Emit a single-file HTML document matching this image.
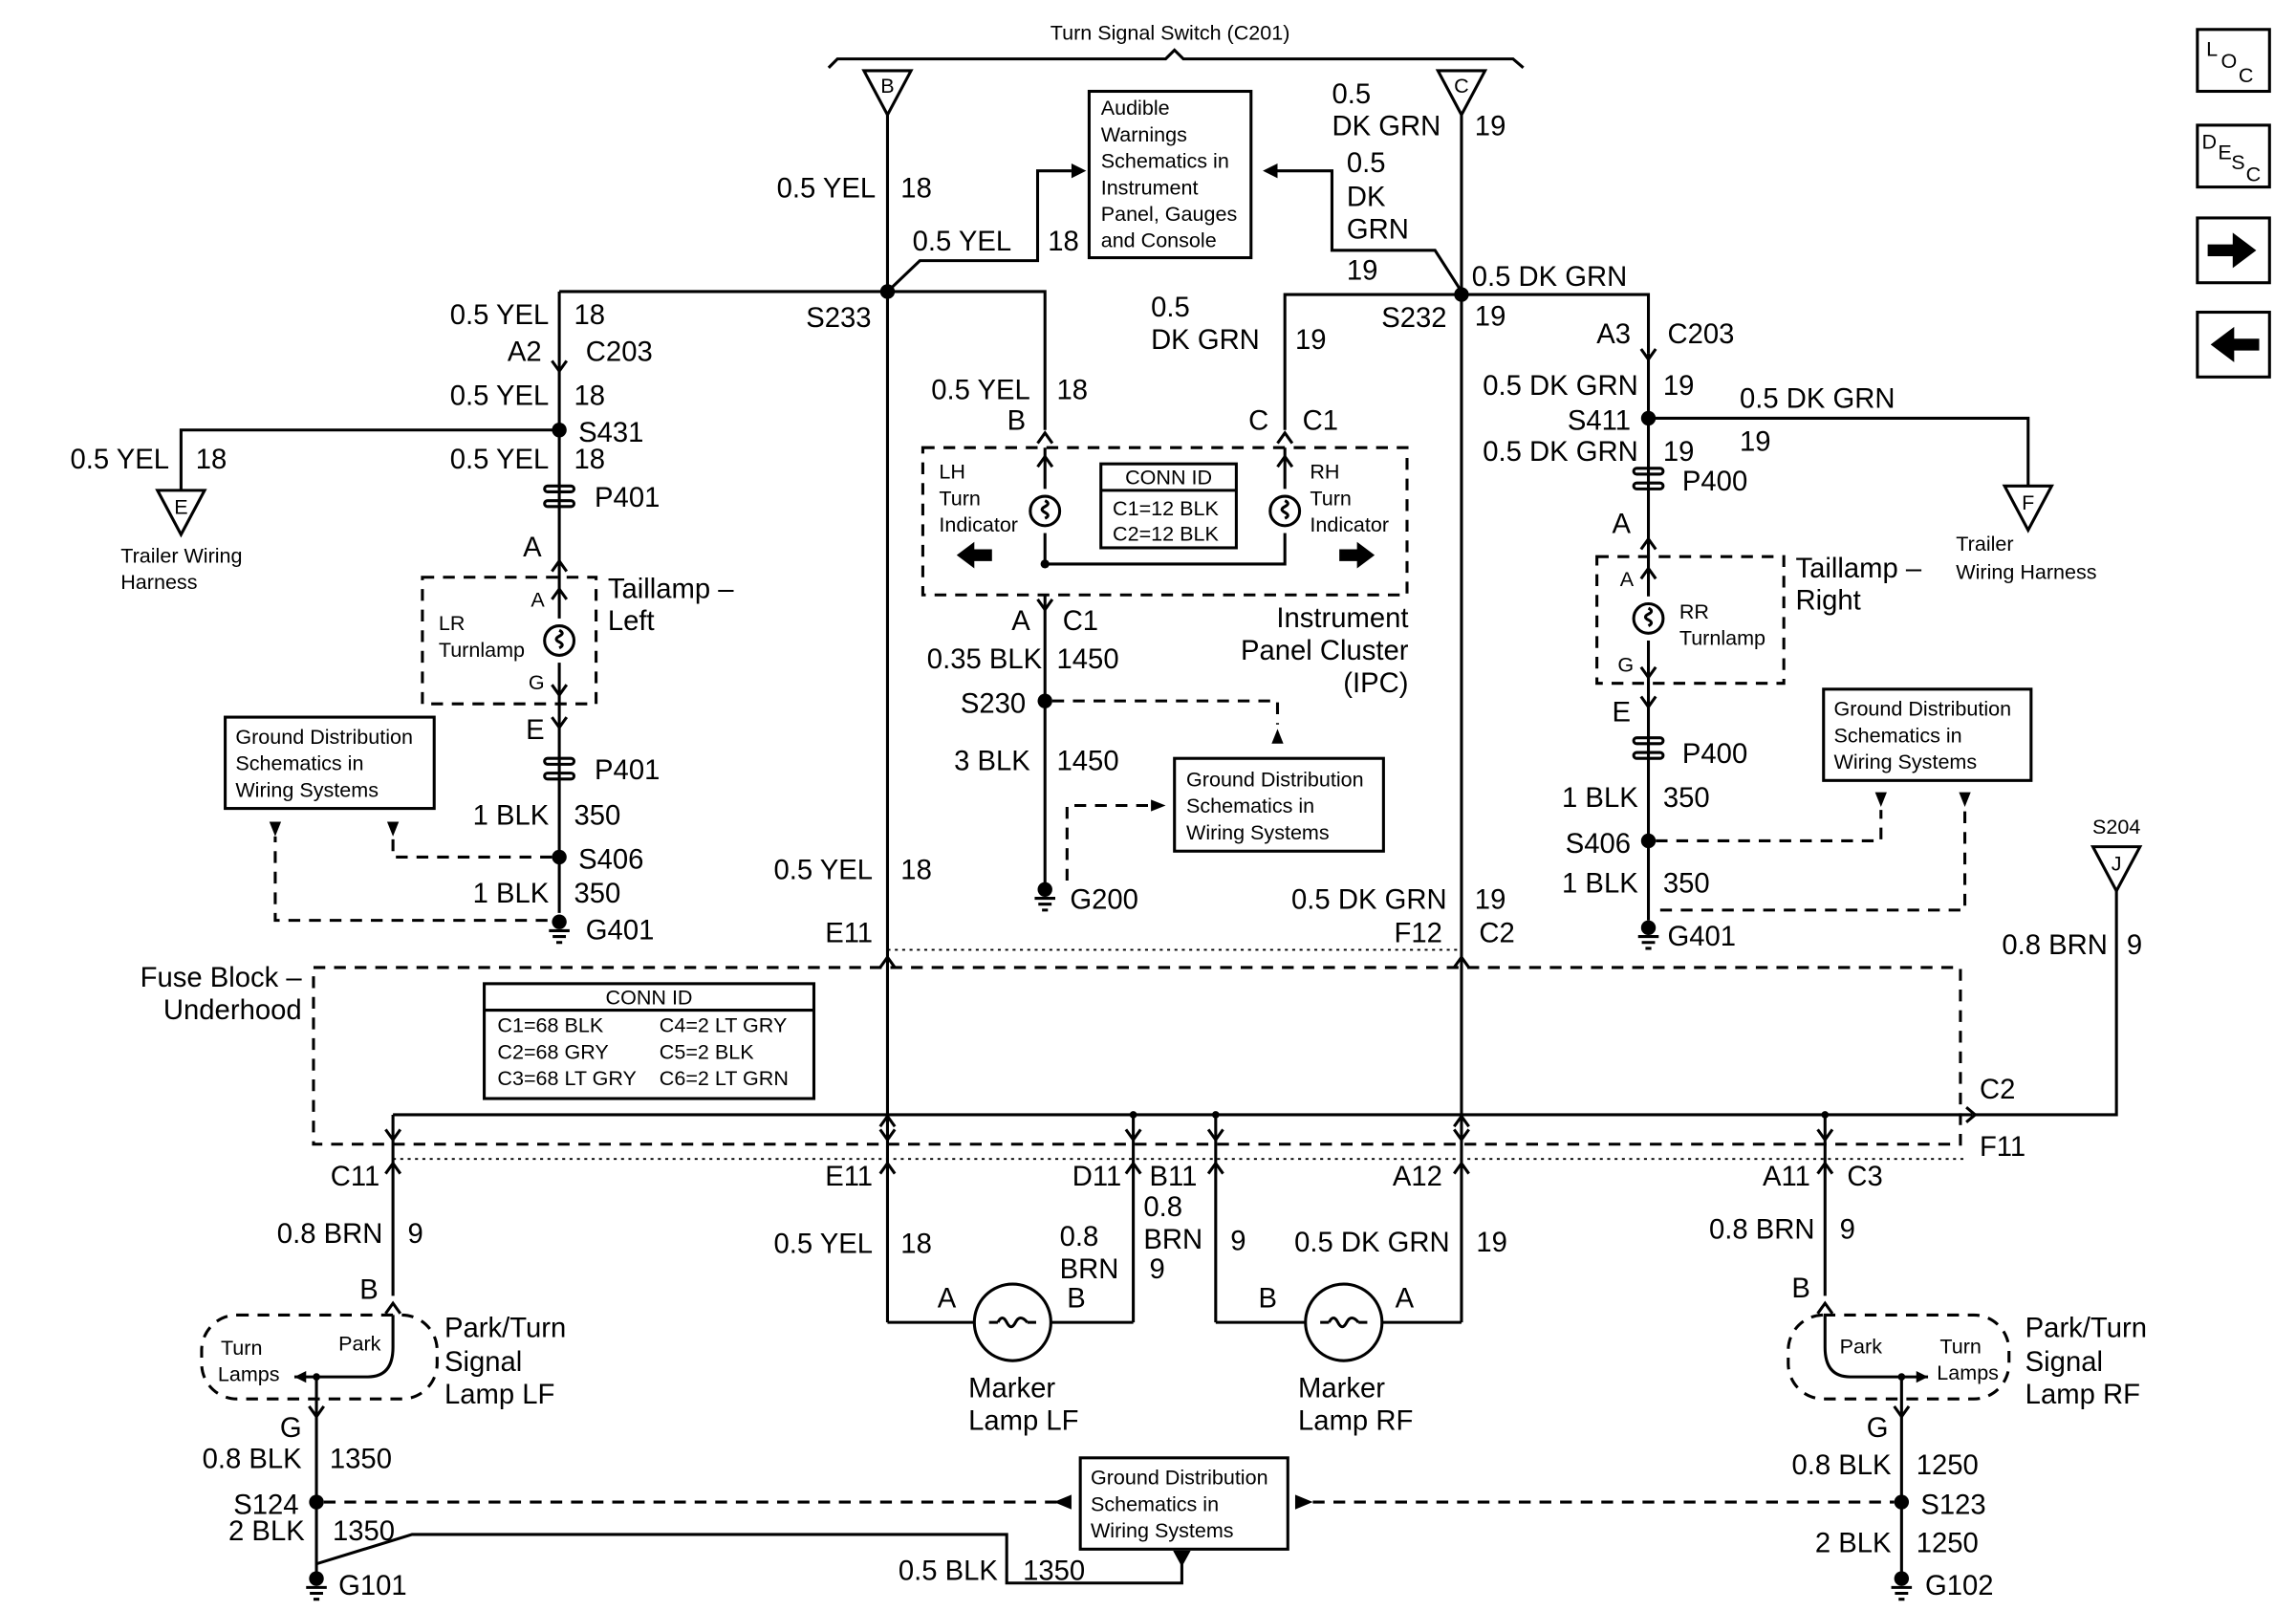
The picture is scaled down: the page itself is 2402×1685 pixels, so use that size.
<!DOCTYPE html>
<html><head><meta charset="utf-8"><style>
html,body{margin:0;padding:0;background:#fff}
svg{display:block}
text{font-family:"Liberation Sans",Arial,sans-serif;fill:#000}
.t{font-size:19px}
.s{font-size:14px}
.r{text-anchor:end}
.m{text-anchor:middle}
.w{stroke:#000;stroke-width:2;fill:none}
.d{stroke:#000;stroke-width:2;fill:none;stroke-dasharray:8,6}
.dd{stroke:#000;stroke-width:1.2;fill:none;stroke-dasharray:2,3}
.b{stroke:#000;stroke-width:2;fill:#fff}
</style></head><body>
<svg width="2402" height="1685" viewBox="0 0 1560 1094" preserveAspectRatio="none" xmlns="http://www.w3.org/2000/svg">
<defs>
<g id="dn"><path d="M-5,-5 L0,2 L5,-5" class="w"/></g>
<g id="up"><path d="M-5,5 L0,-2 L5,5" class="w"/></g>
<g id="gnd"><circle cx="0" cy="-2" r="5" fill="#000"/><path d="M-7,4 H7 M-4.5,8 H4.5 M-2,12 H2" stroke="#000" stroke-width="2"/></g>
<g id="pc"><rect x="-10" y="-7" width="20" height="4" rx="2" class="w"/><rect x="-10" y="3" width="20" height="4" rx="2" class="w"/></g>
<g id="bulb"><circle r="10" class="w"/><path d="M0,-7 q4,2 0,4 q-4,2 0,4 q4,2 0,4" class="w" stroke-width="1.5"/></g>
<g id="arD"><path d="M-4,-8 H4 L0,2 Z" fill="#000"/></g>
</defs>

<text x="795" y="27" class="s m">Turn Signal Switch (C201)</text>
<path d="M563,46 L569,40 L792,40 L798,34 L804,40 L1028,40 L1035,46" class="w" stroke-width="1.5"/>
<path d="M587,48 H619 L603,78 Z" class="w"/><text x="603" y="63" class="s m">B</text>
<path d="M977,48 H1009 L993,78 Z" class="w"/><text x="993" y="63" class="s m">C</text>

<path d="M603,78 V645 M993,78 V645" class="w"/>
<text x="595" y="134" class="t r">0.5 YEL</text><text x="612" y="134" class="t">18</text>
<text x="905" y="70" class="t">0.5</text><text x="905" y="92" class="t">DK GRN</text><text x="1002" y="92" class="t">19</text>

<rect x="740" y="62" width="110" height="113" class="w"/>
<text x="748" y="78" class="s">Audible</text><text x="748" y="96" class="s">Warnings</text><text x="748" y="114" class="s">Schematics in</text><text x="748" y="132" class="s">Instrument</text><text x="748" y="150" class="s">Panel, Gauges</text><text x="748" y="168" class="s">and Console</text>
<path d="M603,198 L625,177 H705 V116 H728" class="w"/><path d="M738,116 L728,111 V121 Z" fill="#000"/>
<text x="620" y="170" class="t">0.5 YEL</text><text x="712" y="170" class="t">18</text>
<path d="M993,198 L975,170 H905 V116 H868" class="w"/><path d="M858,116 L868,111 V121 Z" fill="#000"/>
<text x="915" y="117" class="t">0.5</text><text x="915" y="140" class="t">DK</text><text x="915" y="162" class="t">GRN</text><text x="915" y="190" class="t">19</text>

<path d="M380,198 H710 V292" class="w"/>
<circle cx="603" cy="198" r="5" fill="#000"/>
<text x="592" y="222" class="t r">S233</text>
<path d="M873,292 V200 H1120 V240" class="w"/>
<circle cx="993" cy="200" r="5" fill="#000"/>
<text x="1000" y="194" class="t">0.5 DK GRN</text><text x="1002" y="221" class="t">19</text>
<text x="983" y="222" class="t r">S232</text>
<text x="782" y="215" class="t">0.5</text><text x="782" y="237" class="t">DK GRN</text><text x="880" y="237" class="t">19</text>

<path d="M380,198 V620" class="w"/>
<text x="373" y="220" class="t r">0.5 YEL</text><text x="390" y="220" class="t">18</text>
<use href="#dn" x="380" y="250"/>
<text x="368" y="245" class="t r">A2</text><text x="398" y="245" class="t">C203</text>
<text x="373" y="275" class="t r">0.5 YEL</text><text x="390" y="275" class="t">18</text>
<circle cx="380" cy="292" r="5" fill="#000"/><text x="393" y="300" class="t">S431</text>
<path d="M380,292 H123 V333" class="w"/>
<path d="M107,333 H139 L123,363 Z" class="w"/><text x="123" y="349" class="s m">E</text>
<text x="115" y="318" class="t r">0.5 YEL</text><text x="133" y="318" class="t">18</text>
<text x="82" y="382" class="s">Trailer Wiring</text><text x="82" y="400" class="s">Harness</text>
<text x="373" y="318" class="t r">0.5 YEL</text><text x="390" y="318" class="t">18</text>
<use href="#pc" x="380" y="337"/><text x="404" y="344" class="t">P401</text>
<text x="368" y="378" class="t r">A</text><use href="#up" x="380" y="383"/>
<rect x="287" y="392" width="118" height="86" class="d"/>
<use href="#up" x="380" y="402"/><text x="370" y="412" class="s r">A</text>
<rect x="370" y="420" width="20" height="30" fill="#fff"/><use href="#bulb" x="380" y="435"/>
<use href="#dn" x="380" y="470"/><text x="370" y="468" class="s r">G</text>
<text x="298" y="428" class="s">LR</text><text x="298" y="446" class="s">Turnlamp</text>
<text x="413" y="406" class="t">Taillamp –</text><text x="413" y="428" class="t">Left</text>
<use href="#dn" x="380" y="492"/><text x="370" y="502" class="t r">E</text>
<use href="#pc" x="380" y="522"/><text x="404" y="529" class="t">P401</text>
<text x="373" y="560" class="t r">1 BLK</text><text x="390" y="560" class="t">350</text>
<circle cx="380" cy="582" r="5" fill="#000"/><text x="393" y="590" class="t">S406</text>
<text x="373" y="613" class="t r">1 BLK</text><text x="390" y="613" class="t">350</text>
<use href="#gnd" x="380" y="628"/><text x="398" y="638" class="t">G401</text>
<rect x="153" y="487" width="142" height="62" class="w"/>
<text x="160" y="505" class="s">Ground Distribution</text><text x="160" y="523" class="s">Schematics in</text><text x="160" y="541" class="s">Wiring Systems</text>
<path d="M375,582 H267 V568" class="d"/><use href="#arD" x="267" y="566"/>
<path d="M372,625 H187 V568" class="d"/><use href="#arD" x="187" y="566"/>

<text x="700" y="271" class="t r">0.5 YEL</text><text x="718" y="271" class="t">18</text>
<text x="697" y="292" class="t r">B</text><use href="#up" x="710" y="296"/>
<text x="862" y="292" class="t r">C</text><text x="885" y="292" class="t">C1</text><use href="#up" x="873" y="296"/>
<rect x="627" y="304" width="329" height="100" class="d"/>
<path d="M710,304 V383 H873 V304" class="w"/>
<use href="#up" x="710" y="312"/><use href="#up" x="873" y="312"/>
<rect x="700" y="332" width="20" height="30" fill="#fff"/><use href="#bulb" x="710" y="347"/>
<rect x="863" y="332" width="20" height="30" fill="#fff"/><use href="#bulb" x="873" y="347"/>
<circle cx="710" cy="383" r="3" fill="#000"/>
<text x="638" y="325" class="s">LH</text><text x="638" y="343" class="s">Turn</text><text x="638" y="361" class="s">Indicator</text>
<text x="890" y="325" class="s">RH</text><text x="890" y="343" class="s">Turn</text><text x="890" y="361" class="s">Indicator</text>
<rect x="748" y="315" width="92" height="57" class="w"/><path d="M748,333 H840" class="w"/>
<text x="794" y="329" class="s m">CONN ID</text><text x="756" y="350" class="s">C1=12 BLK</text><text x="756" y="367" class="s">C2=12 BLK</text>
<path d="M650,377 L662,368 V373 H674 V381 H662 V386 Z" fill="#000"/>
<path d="M934,377 L922,368 V373 H910 V381 H922 V386 Z" fill="#000"/>
<path d="M710,404 V605" class="w"/><use href="#dn" x="710" y="412"/>
<text x="700" y="428" class="t r">A</text><text x="722" y="428" class="t">C1</text>
<text x="957" y="426" class="t r">Instrument</text><text x="957" y="448" class="t r">Panel Cluster</text><text x="957" y="470" class="t r">(IPC)</text>
<text x="708" y="454" class="t r">0.35 BLK</text><text x="718" y="454" class="t">1450</text>
<circle cx="710" cy="476" r="5" fill="#000"/><text x="697" y="484" class="t r">S230</text>
<text x="700" y="523" class="t r">3 BLK</text><text x="718" y="523" class="t">1450</text>
<use href="#gnd" x="710" y="606"/><text x="727" y="617" class="t">G200</text>
<rect x="798" y="515" width="142" height="63" class="w"/>
<text x="806" y="534" class="s">Ground Distribution</text><text x="806" y="552" class="s">Schematics in</text><text x="806" y="570" class="s">Wiring Systems</text>
<path d="M715,476 H868 V492" class="d"/><path d="M864,505 H872 L868,495 Z" fill="#000"/>
<path d="M725,598 V547 H782" class="d"/><path d="M792,547 L782,543 V551 Z" fill="#000"/>

<path d="M1120,240 V625" class="w"/><use href="#dn" x="1120" y="242"/>
<text x="1108" y="233" class="t r">A3</text><text x="1133" y="233" class="t">C203</text>
<text x="1113" y="268" class="t r">0.5 DK GRN</text><text x="1130" y="268" class="t">19</text>
<circle cx="1120" cy="284" r="5" fill="#000"/><text x="1108" y="292" class="t r">S411</text>
<path d="M1120,284 H1378 V330" class="w"/>
<path d="M1362,330 H1394 L1378,360 Z" class="w"/><text x="1378" y="346" class="s m">F</text>
<text x="1182" y="277" class="t">0.5 DK GRN</text><text x="1182" y="306" class="t">19</text>
<text x="1329" y="374" class="s">Trailer</text><text x="1329" y="393" class="s">Wiring Harness</text>
<text x="1113" y="313" class="t r">0.5 DK GRN</text><text x="1130" y="313" class="t">19</text>
<use href="#pc" x="1120" y="325"/><text x="1143" y="333" class="t">P400</text>
<text x="1108" y="362" class="t r">A</text><use href="#up" x="1120" y="368"/>
<rect x="1085" y="378" width="127" height="86" class="d"/>
<use href="#up" x="1120" y="388"/><text x="1110" y="398" class="s r">A</text>
<rect x="1110" y="405" width="20" height="30" fill="#fff"/><use href="#bulb" x="1120" y="420"/>
<use href="#dn" x="1120" y="458"/><text x="1110" y="456" class="s r">G</text>
<text x="1141" y="420" class="s">RR</text><text x="1141" y="438" class="s">Turnlamp</text>
<text x="1220" y="392" class="t">Taillamp –</text><text x="1220" y="414" class="t">Right</text>
<use href="#dn" x="1120" y="478"/><text x="1108" y="490" class="t r">E</text>
<use href="#pc" x="1120" y="508"/><text x="1143" y="518" class="t">P400</text>
<text x="1113" y="548" class="t r">1 BLK</text><text x="1130" y="548" class="t">350</text>
<circle cx="1120" cy="571" r="5" fill="#000"/><text x="1108" y="579" class="t r">S406</text>
<text x="1113" y="606" class="t r">1 BLK</text><text x="1130" y="606" class="t">350</text>
<use href="#gnd" x="1120" y="632"/><text x="1133" y="642" class="t">G401</text>
<rect x="1239" y="468" width="141" height="62" class="w"/>
<text x="1246" y="486" class="s">Ground Distribution</text><text x="1246" y="504" class="s">Schematics in</text><text x="1246" y="522" class="s">Wiring Systems</text>
<path d="M1125,571 H1278 V550" class="d"/><use href="#arD" x="1278" y="546"/>
<path d="M1128,618 H1335 V550" class="d"/><use href="#arD" x="1335" y="546"/>

<text x="1438" y="566" class="s m">S204</text>
<path d="M1422,575 H1454 L1438,605 Z" class="w"/><text x="1438" y="591" class="s m">J</text>
<path d="M1438,605 V757 H1340" class="w"/>
<text x="1432" y="648" class="t r">0.8 BRN</text><text x="1445" y="648" class="t">9</text>
<text x="1345" y="746" class="t">C2</text><text x="1345" y="785" class="t">F11</text>
<path d="M1336,752 L1342,757 L1336,762" class="w"/>

<text x="593" y="597" class="t r">0.5 YEL</text><text x="612" y="597" class="t">18</text>
<text x="593" y="640" class="t r">E11</text>
<text x="983" y="617" class="t r">0.5 DK GRN</text><text x="1002" y="617" class="t">19</text>
<text x="980" y="640" class="t r">F12</text><text x="1005" y="640" class="t">C2</text>
<path d="M603,645 H993" class="dd"/>
<use href="#up" x="603" y="652"/><use href="#up" x="993" y="652"/>

<rect x="213" y="657" width="1119" height="120" class="d"/>
<text x="205" y="670" class="t r">Fuse Block –</text><text x="205" y="692" class="t r">Underhood</text>
<rect x="329" y="668" width="224" height="78" class="w"/><path d="M329,686 H553" class="w"/>
<text x="441" y="682" class="s m">CONN ID</text>
<text x="338" y="701" class="s">C1=68 BLK</text><text x="448" y="701" class="s">C4=2 LT GRY</text>
<text x="338" y="719" class="s">C2=68 GRY</text><text x="448" y="719" class="s">C5=2 BLK</text>
<text x="338" y="737" class="s">C3=68 LT GRY</text><text x="448" y="737" class="s">C6=2 LT GRN</text>
<path d="M267,757 H1340" class="w" stroke-width="3"/>
<path d="M603,645 V898 M993,645 V898 M267,757 V880 M770,757 V898 M826,757 V898 M1240,757 V880" class="w"/>
<use href="#dn" x="267" y="772"/><use href="#dn" x="603" y="772"/><use href="#dn" x="770" y="772"/><use href="#dn" x="826" y="772"/><use href="#dn" x="993" y="772"/><use href="#dn" x="1240" y="772"/>
<use href="#up" x="603" y="760"/><use href="#up" x="993" y="760"/>
<circle cx="770" cy="757" r="2.5" fill="#000"/><circle cx="826" cy="757" r="2.5" fill="#000"/><circle cx="1240" cy="757" r="2.5" fill="#000"/>
<path d="M267,787 H1335" class="dd"/>
<use href="#up" x="267" y="792"/><use href="#up" x="603" y="792"/><use href="#up" x="770" y="792"/><use href="#up" x="826" y="792"/><use href="#up" x="993" y="792"/><use href="#up" x="1240" y="792"/>

<text x="258" y="805" class="t r">C11</text><text x="593" y="805" class="t r">E11</text><text x="762" y="805" class="t r">D11</text><text x="781" y="805" class="t">B11</text>
<text x="980" y="805" class="t r">A12</text><text x="1230" y="805" class="t r">A11</text><text x="1255" y="805" class="t">C3</text>

<text x="260" y="844" class="t r">0.8 BRN</text><text x="277" y="844" class="t">9</text>
<text x="257" y="882" class="t r">B</text><use href="#up" x="267" y="887"/>
<rect x="137" y="893" width="160" height="57" rx="24" class="d"/>
<path d="M267,893 V915 Q267,935 250,935 H200" class="w"/>
<path d="M200,935 L208,931 V939 Z" fill="#000"/>
<circle cx="215" cy="935" r="2.5" fill="#000"/>
<text x="150" y="920" class="s">Turn</text><text x="148" y="938" class="s">Lamps</text><text x="230" y="917" class="s">Park</text>
<text x="302" y="908" class="t">Park/Turn</text><text x="302" y="931" class="t">Signal</text><text x="302" y="953" class="t">Lamp LF</text>
<path d="M215,935 V1070" class="w"/><use href="#dn" x="215" y="960"/>
<text x="205" y="976" class="t r">G</text>
<text x="205" y="997" class="t r">0.8 BLK</text><text x="224" y="997" class="t">1350</text>
<circle cx="215" cy="1020" r="5" fill="#000"/><text x="203" y="1028" class="t r">S124</text>
<text x="207" y="1046" class="t r">2 BLK</text><text x="226" y="1046" class="t">1350</text>
<use href="#gnd" x="215" y="1074"/><text x="230" y="1083" class="t">G101</text>
<path d="M215,1062 L280,1042 H684 V1075 H803 V1060" class="w"/><path d="M797,1053 H809 L803,1064 Z" fill="#000"/>
<text x="678" y="1073" class="t r">0.5 BLK</text><text x="695" y="1073" class="t">1350</text>
<path d="M220,1020 H718" class="d"/><path d="M716,1020 L728,1015 V1025 Z" fill="#000"/>
<rect x="734" y="990" width="141" height="62" class="w"/>
<text x="741" y="1008" class="s">Ground Distribution</text><text x="741" y="1026" class="s">Schematics in</text><text x="741" y="1044" class="s">Wiring Systems</text>
<path d="M892,1020 H1287" class="d"/><path d="M892,1020 L880,1015 V1025 Z" fill="#000"/>

<path d="M603,898 H662 M714,898 H770" class="w"/>
<circle cx="688" cy="898" r="26" class="w"/><path d="M672,898 H678 M698,898 H704" class="w" stroke-width="1.5"/><path d="M678,898 q3,-6 6,0 q3,6 6,0 q3,-6 8,0" class="w" stroke-width="1.5"/>
<text x="637" y="888" class="t">A</text><text x="725" y="888" class="t">B</text>
<text x="593" y="851" class="t r">0.5 YEL</text><text x="612" y="851" class="t">18</text>
<text x="720" y="846" class="t">0.8</text><text x="720" y="868" class="t">BRN</text>
<text x="777" y="826" class="t">0.8</text><text x="777" y="848" class="t">BRN</text><text x="781" y="868" class="t">9</text><text x="836" y="849" class="t">9</text>
<text x="658" y="949" class="t">Marker</text><text x="658" y="971" class="t">Lamp LF</text>
<path d="M826,898 H887 M939,898 H993" class="w"/>
<circle cx="913" cy="898" r="26" class="w"/><path d="M897,898 H903 M923,898 H929" class="w" stroke-width="1.5"/><path d="M903,898 q3,-6 6,0 q3,6 6,0 q3,-6 8,0" class="w" stroke-width="1.5"/>
<text x="855" y="888" class="t">B</text><text x="948" y="888" class="t">A</text>
<text x="985" y="850" class="t r">0.5 DK GRN</text><text x="1003" y="850" class="t">19</text>
<text x="882" y="949" class="t">Marker</text><text x="882" y="971" class="t">Lamp RF</text>

<text x="1233" y="841" class="t r">0.8 BRN</text><text x="1250" y="841" class="t">9</text>
<text x="1230" y="881" class="t r">B</text><use href="#up" x="1240" y="887"/>
<rect x="1215" y="893" width="150" height="57" rx="24" class="d"/>
<path d="M1240,893 V915 Q1240,935 1257,935 H1310" class="w"/>
<path d="M1310,935 L1302,931 V939 Z" fill="#000"/>
<circle cx="1292" cy="935" r="2.5" fill="#000"/>
<text x="1250" y="919" class="s">Park</text><text x="1318" y="919" class="s">Turn</text><text x="1316" y="937" class="s">Lamps</text>
<text x="1376" y="908" class="t">Park/Turn</text><text x="1376" y="931" class="t">Signal</text><text x="1376" y="953" class="t">Lamp RF</text>
<path d="M1292,935 V1070" class="w"/><use href="#dn" x="1292" y="960"/>
<text x="1283" y="976" class="t r">G</text>
<text x="1285" y="1001" class="t r">0.8 BLK</text><text x="1302" y="1001" class="t">1250</text>
<circle cx="1292" cy="1020" r="5" fill="#000"/><text x="1305" y="1028" class="t">S123</text>
<text x="1285" y="1054" class="t r">2 BLK</text><text x="1302" y="1054" class="t">1250</text>
<use href="#gnd" x="1292" y="1074"/><text x="1308" y="1083" class="t">G102</text>

<rect x="1493" y="20" width="49" height="42" class="w" stroke-width="3"/>
<text x="1499" y="38" class="s">L</text><text x="1509" y="46" class="s">O</text><text x="1521" y="56" class="s">C</text>
<rect x="1493" y="85" width="49" height="42" class="w" stroke-width="3"/>
<text x="1496" y="101" class="s">D</text><text x="1507" y="108" class="s">E</text><text x="1516" y="115" class="s">S</text><text x="1526" y="123" class="s">C</text>
<rect x="1493" y="148" width="49" height="44" class="w" stroke-width="3"/>
<path d="M1500,166 H1517 V158 L1533,170 L1517,182 V174 H1500 Z" fill="#000"/>
<rect x="1493" y="212" width="49" height="44" class="w" stroke-width="3"/>
<path d="M1535,230 H1518 V222 L1502,234 L1518,246 V238 H1535 Z" fill="#000"/>
</svg>
</body></html>
